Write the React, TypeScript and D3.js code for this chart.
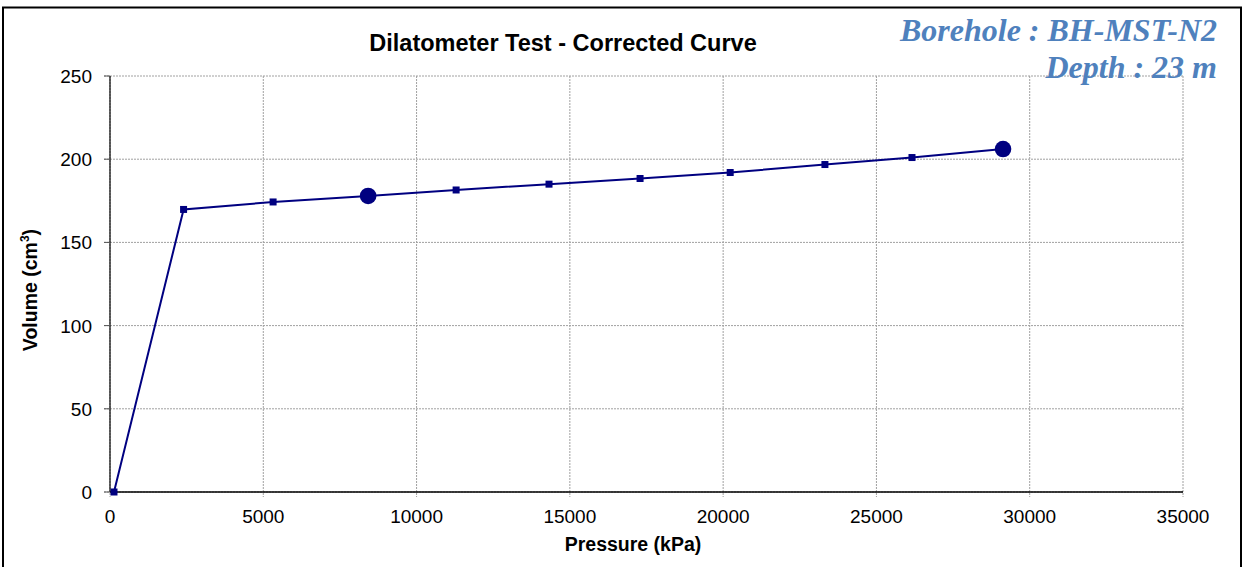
import React from "react";
import * as d3 from "d3";

const pressure = [130, 2400, 5320, 8420, 11290, 14320, 17290, 20230, 23320, 26160, 29130];
const volume = [0, 169.8, 174.3, 177.9, 181.5, 185.0, 188.4, 192.0, 196.8, 201.0, 206.1];
const bigMarkers = [3, 10];
const xTicks = [0, 5000, 10000, 15000, 20000, 25000, 30000, 35000];
const yTicks = [0, 50, 100, 150, 200, 250];
const title = "Dilatometer Test - Corrected Curve";
const xLabel = "Pressure (kPa)";
const boreholeLines = ["Borehole : BH-MST-N2", "Depth : 23 m"];

export default function App() {
  const W = 1247, H = 567;
  const x = d3.scaleLinear().domain([0, 35000]).range([110, 1183]);
  const y = d3.scaleLinear().domain([0, 250]).range([492, 76]);
  const pts = pressure.map((p, i) => ({ p, v: volume[i], i }));
  const line = d3.line<any>().x((d) => x(d.p)).y((d) => y(d.v));
  const navy = "#000080";
  const font = "'Liberation Sans', Arial, sans-serif";
  return (
    <svg width={W} height={H} style={{ position: "fixed", left: 0, top: 0, background: "#fff" }}>
      <rect x={0} y={0} width={W} height={H} fill="#fff" />
      <rect x={3} y={7.5} width={1238} height={H + 10} fill="none" stroke="#000" strokeWidth={2} />
      {/* grid */}
      {xTicks.map((t) => (
        <line key={"gx" + t} x1={x(t)} x2={x(t)} y1={y(250)} y2={y(0) + 5} stroke="#a0a0a0" strokeWidth={1} strokeDasharray="2,1" />
      ))}
      {yTicks.map((t) => (
        <line key={"gy" + t} x1={x(0) - 6} x2={x(35000)} y1={y(t)} y2={y(t)} stroke="#a0a0a0" strokeWidth={1} strokeDasharray="2,1" />
      ))}
      {/* axes */}
      <line x1={x(0)} x2={x(0)} y1={y(250)} y2={y(0)} stroke="#000" strokeWidth={1.2} />
      <line x1={x(0)} x2={x(35000)} y1={y(0)} y2={y(0)} stroke="#000" strokeWidth={1.5} />
      {yTicks.map((t) => (
        <line key={"ty" + t} x1={x(0) - 6} x2={x(0)} y1={y(t)} y2={y(t)} stroke="#555" strokeWidth={1} />
      ))}
      {xTicks.map((t) => (
        <text key={"lx" + t} x={x(t)} y={523} textAnchor="middle" fontFamily={font} fontSize={19} fill="#000">{t}</text>
      ))}
      {yTicks.map((t) => (
        <text key={"ly" + t} x={92} y={y(t) + 7} textAnchor="end" fontFamily={font} fontSize={19} fill="#000">{t}</text>
      ))}
      <text x={563} y={51} textAnchor="middle" fontFamily={font} fontSize={23.5} fontWeight="bold" fill="#000">{title}</text>
      <text x={633} y={551} textAnchor="middle" fontFamily={font} fontSize={19.5} fontWeight="bold" fill="#000">{xLabel}</text>
      <text transform="translate(37,290) rotate(-90)" textAnchor="middle" fontFamily={font} fontSize={19.5} fontWeight="bold" fill="#000">
        Volume (cm<tspan fontSize={12} dy={-8}>3</tspan><tspan dy={8}>)</tspan>
      </text>
      {/* data */}
      <path d={line(pts) || ""} fill="none" stroke={navy} strokeWidth={2} />
      {pts.map((d) =>
        bigMarkers.includes(d.i) ? (
          <circle key={"m" + d.i} cx={x(d.p)} cy={y(d.v)} r={8.3} fill={navy} />
        ) : (
          <rect key={"m" + d.i} x={x(d.p) - 3.5} y={y(d.v) - 3.5} width={7} height={7} fill={navy} />
        )
      )}
      {boreholeLines.map((s, i) => (
        <text key={"b" + i} x={1217} y={41 + i * 37} textAnchor="end" fontFamily="'Liberation Serif', 'Times New Roman', serif" fontStyle="italic" fontWeight="bold" fontSize={32} fill="#4F81BD">{s}</text>
      ))}
    </svg>
  );
}
